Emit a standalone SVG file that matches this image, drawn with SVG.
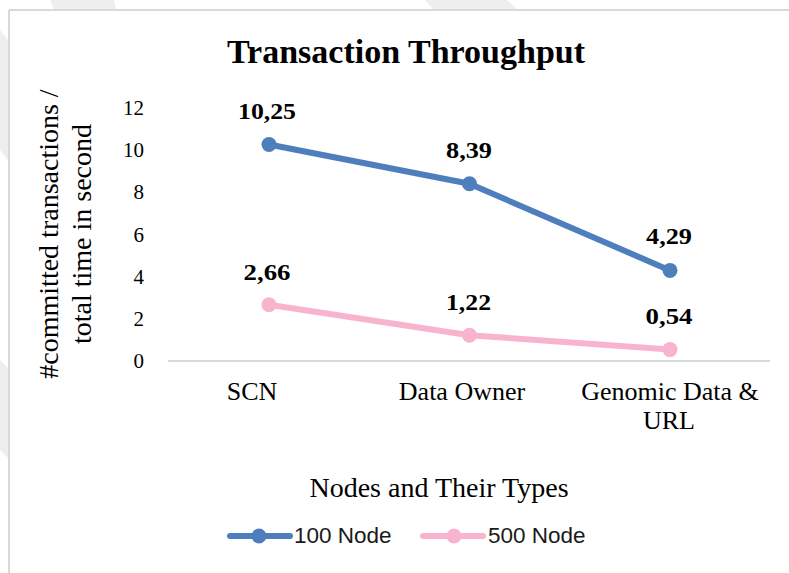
<svg xmlns="http://www.w3.org/2000/svg" width="789" height="573" viewBox="0 0 789 573">
<style>
.serif{font-family:"Liberation Serif","Times New Roman",serif;fill:#000}
.title{font-size:34px;font-weight:bold;text-anchor:middle}
.tick{font-size:21px;text-anchor:end}
.cat{font-size:26px;text-anchor:middle}
.axt{font-size:28px;text-anchor:middle}
.dl{font-size:22.5px;font-weight:bold;text-anchor:middle}
.leg{font-family:"Liberation Sans",Arial,sans-serif;font-size:22.5px;fill:#1a1a1a}
.s100{stroke:#4F7EBD;fill:none;stroke-width:6;stroke-linecap:round;stroke-linejoin:round}
.s500{stroke:#F8B4CF;fill:none;stroke-width:6;stroke-linecap:round;stroke-linejoin:round}
.m100{fill:#4F7EBD}
.m500{fill:#F8B4CF}
.wm{fill:#eeeeee}
</style>
<rect x="0" y="0" width="789" height="573" fill="#ffffff"/>
<g id="watermark">
<polygon class="wm" points="50,0 114,0 116,9 54,9"/>
<polygon class="wm" points="425,0 507,0 517,9 433,9"/>
<polygon class="wm" points="0,30 8,40 8,160 0,150"/>
<polygon class="wm" points="0,360 8,368 8,458 0,450"/>
</g>
<g id="frame" stroke="#d9d9d9" stroke-width="2" fill="none">
<line x1="9" y1="10" x2="789" y2="10"/>
<line x1="9" y1="10" x2="9" y2="573"/>
</g>
<g id="title"><text class="serif title" x="406" y="63">Transaction Throughput</text></g>
<g id="y-axis">
<text class="serif axt" transform="translate(58,234) rotate(-90)">#committed transactions /</text>
<text class="serif axt" transform="translate(91,234) rotate(-90)">total time in second</text>
<text class="serif tick" x="144" y="114.5">12</text>
<text class="serif tick" x="144" y="156.5">10</text>
<text class="serif tick" x="144" y="199">8</text>
<text class="serif tick" x="144" y="241.5">6</text>
<text class="serif tick" x="144" y="283.5">4</text>
<text class="serif tick" x="144" y="325.5">2</text>
<text class="serif tick" x="144" y="368">0</text>
</g>
<g id="x-axis">
<line x1="168" y1="361" x2="770" y2="361" stroke="#d9d9d9" stroke-width="2"/>
<text class="serif cat" x="252" y="400">SCN</text>
<text class="serif cat" x="462" y="400">Data Owner</text>
<text class="serif cat" x="670" y="400">Genomic Data &amp;</text>
<text class="serif cat" x="669" y="429">URL</text>
<text class="serif axt" x="439" y="497">Nodes and Their Types</text>
</g>
<g id="connectors">
<polyline class="s100" points="269,144.5 469.5,183.8 670,270.4"/>
<polyline class="s500" points="269,304.8 469.5,335.2 670,349.6"/>
</g>
<g id="series-100">
<circle class="m100" cx="269" cy="144.5" r="7.5"/>
<circle class="m100" cx="469.5" cy="183.8" r="7.5"/>
<circle class="m100" cx="670" cy="270.4" r="7.5"/>
<text class="serif dl" x="267" y="119" textLength="58" lengthAdjust="spacingAndGlyphs">10,25</text>
<text class="serif dl" x="469" y="158" textLength="46" lengthAdjust="spacingAndGlyphs">8,39</text>
<text class="serif dl" x="669" y="244" textLength="46" lengthAdjust="spacingAndGlyphs">4,29</text>
</g>
<g id="series-500">
<circle class="m500" cx="269" cy="304.8" r="7.5"/>
<circle class="m500" cx="469.5" cy="335.2" r="7.5"/>
<circle class="m500" cx="670" cy="349.6" r="7.5"/>
<text class="serif dl" x="267" y="280" textLength="47" lengthAdjust="spacingAndGlyphs">2,66</text>
<text class="serif dl" x="468.5" y="310" textLength="45" lengthAdjust="spacingAndGlyphs">1,22</text>
<text class="serif dl" x="669" y="324" textLength="47" lengthAdjust="spacingAndGlyphs">0,54</text>
</g>
<g id="legend">
<line class="s100" x1="230" y1="536" x2="290" y2="536"/>
<circle class="m100" cx="259" cy="536" r="7.5"/>
<text class="leg" x="294" y="543">100 Node</text>
<line class="s500" x1="423" y1="536" x2="483" y2="536"/>
<circle class="m500" cx="454" cy="536" r="7.5"/>
<text class="leg" x="488" y="543">500 Node</text>
</g>
</svg>
